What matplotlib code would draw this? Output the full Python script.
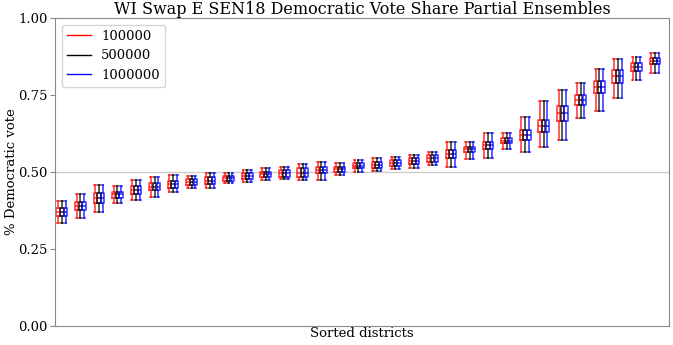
import numpy as np
import matplotlib
matplotlib.use("Agg")
import matplotlib.pyplot as plt

plt.rcParams['font.family'] = 'DejaVu Serif'

# summary stats per sorted district
whisk_lo = [0.335, 0.350, 0.371, 0.400, 0.409, 0.420, 0.436, 0.447, 0.447, 0.463, 0.466,
            0.474, 0.476, 0.474, 0.474, 0.490, 0.500, 0.503, 0.509, 0.512, 0.523,
            0.517, 0.541, 0.544, 0.575, 0.566, 0.582, 0.604, 0.675, 0.698, 0.740, 0.800, 0.820]
q1 = [0.357, 0.377, 0.399, 0.417, 0.429, 0.442, 0.449, 0.458, 0.460, 0.471, 0.477,
      0.483, 0.485, 0.485, 0.496, 0.501, 0.512, 0.514, 0.520, 0.525, 0.533,
      0.544, 0.564, 0.575, 0.593, 0.604, 0.629, 0.667, 0.717, 0.755, 0.790, 0.829, 0.850]
med = [0.370, 0.390, 0.415, 0.427, 0.442, 0.452, 0.460, 0.467, 0.472, 0.480, 0.486,
       0.492, 0.496, 0.498, 0.506, 0.509, 0.520, 0.524, 0.530, 0.535, 0.544,
       0.557, 0.573, 0.586, 0.601, 0.620, 0.648, 0.690, 0.733, 0.775, 0.810, 0.841, 0.860]
q3 = [0.382, 0.404, 0.431, 0.436, 0.455, 0.463, 0.471, 0.477, 0.485, 0.488, 0.496,
      0.501, 0.506, 0.512, 0.517, 0.517, 0.528, 0.533, 0.539, 0.544, 0.555,
      0.571, 0.582, 0.598, 0.610, 0.636, 0.668, 0.714, 0.750, 0.795, 0.830, 0.853, 0.870]
whisk_hi = [0.407, 0.429, 0.458, 0.455, 0.474, 0.485, 0.490, 0.488, 0.496, 0.496, 0.506,
            0.514, 0.517, 0.525, 0.533, 0.528, 0.539, 0.544, 0.550, 0.555, 0.566,
            0.598, 0.598, 0.626, 0.626, 0.680, 0.730, 0.766, 0.790, 0.834, 0.866, 0.872, 0.885]

ensembles = ['100000', '500000', '1000000']
colors = ['red', 'black', 'blue']
offsets = [-0.2, 0.0, 0.2]

n = len(med)
pos = np.arange(1, n + 1)

fig, ax = plt.subplots(figsize=(6.73, 3.45), dpi=100)
fig.subplots_adjust(left=0.082, right=0.994, top=0.948, bottom=0.055)

ax.axhline(0.5, color='#cccccc', lw=1, zorder=0)

for lab, c, off in zip(ensembles, colors, offsets):
    stats = []
    for i in range(n):
        stats.append({'med': med[i], 'q1': q1[i], 'q3': q3[i],
                      'whislo': whisk_lo[i], 'whishi': whisk_hi[i], 'fliers': []})
    props = dict(color=c, lw=1.2, alpha=0.75)
    ax.bxp(stats, positions=pos + off, widths=0.18, showfliers=False,
           boxprops=props, whiskerprops=props, capprops=props, medianprops=props,
           manage_ticks=False)
    ax.plot([], [], color=c, lw=1, label=lab)

ax.set_xlim(0.64, 33.76)
ax.set_ylim(0, 1)
ax.set_yticks([0, 0.25, 0.5, 0.75, 1.0])
ax.set_yticklabels(['0.00', '0.25', '0.50', '0.75', '1.00'], fontsize=9.5)
ax.set_xticks([])
ax.set_xlabel('Sorted districts', fontsize=9.5, labelpad=1)
ax.set_ylabel('% Democratic vote', fontsize=9.5, labelpad=0)
ax.set_title('WI Swap E SEN18 Democratic Vote Share Partial Ensembles', fontsize=11.5, pad=2)
for s in ax.spines.values():
    s.set_color('#888888')
ax.tick_params(axis='y', colors='#888888', labelcolor='black', pad=2)
ax.legend(loc='upper left', fontsize=9.5, handlelength=1.8)

plt.savefig('out.png', dpi=100)
